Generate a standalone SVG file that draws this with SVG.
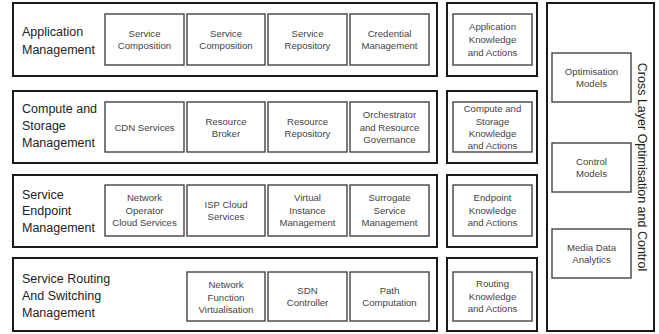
<svg xmlns="http://www.w3.org/2000/svg" width="659" height="334" viewBox="0 0 659 334">
<style>
.outer{fill:#fff;stroke:#1a1a1a;stroke-width:2}
.inner{fill:#fff;stroke:#444;stroke-width:1.4}
.lbl{font-family:"Liberation Sans",Arial,sans-serif;font-size:12.5px;fill:#222}
.t{font-family:"Liberation Sans",Arial,sans-serif;font-size:9.6px;fill:#444;text-anchor:middle}
.vt{font-family:"Liberation Sans",Arial,sans-serif;font-size:12.5px;fill:#222;text-anchor:middle}
</style>
<rect width="659" height="334" fill="#fff"/>
<g id="connectors"/>
<!-- Row 1 -->
<g id="row-application">
<rect class="outer" x="13" y="3" width="424" height="73"/>
<text class="lbl" x="22" y="36">Application</text>
<text class="lbl" x="22" y="54">Management</text>
</g>
<g id="app-svc-comp-1"><rect class="inner" x="105" y="14" width="79" height="51"/><text class="t" x="144.5" y="37">Service</text><text class="t" x="144.5" y="49">Composition</text></g>
<g id="app-svc-comp-2"><rect class="inner" x="187" y="14" width="78" height="51"/><text class="t" x="226" y="37">Service</text><text class="t" x="226" y="49">Composition</text></g>
<g id="app-svc-repo"><rect class="inner" x="268" y="14" width="79" height="51"/><text class="t" x="307.5" y="37">Service</text><text class="t" x="307.5" y="49">Repository</text></g>
<g id="app-cred"><rect class="inner" x="350" y="14" width="79" height="51"/><text class="t" x="389.5" y="37">Credential</text><text class="t" x="389.5" y="49">Management</text></g>
<g id="app-knowledge"><rect class="outer" x="447" y="3" width="90" height="73"/><rect class="inner" x="453" y="14" width="79" height="51"/><text class="t" x="492.5" y="30">Application</text><text class="t" x="492.5" y="43">Knowledge</text><text class="t" x="492.5" y="56">and Actions</text></g>
<!-- Row 2 -->
<g id="row-compute">
<rect class="outer" x="13" y="91" width="424" height="72"/>
<text class="lbl" x="22" y="113">Compute and</text>
<text class="lbl" x="22" y="130">Storage</text>
<text class="lbl" x="22" y="147">Management</text>
</g>
<g id="cdn"><rect class="inner" x="105" y="102" width="79" height="50"/><text class="t" x="144.5" y="130.5">CDN Services</text></g>
<g id="res-broker"><rect class="inner" x="187" y="102" width="78" height="50"/><text class="t" x="226" y="124.5">Resource</text><text class="t" x="226" y="136.5">Broker</text></g>
<g id="res-repo"><rect class="inner" x="268" y="102" width="79" height="50"/><text class="t" x="307.5" y="124.5">Resource</text><text class="t" x="307.5" y="136.5">Repository</text></g>
<g id="orch"><rect class="inner" x="350" y="102" width="79" height="50"/><text class="t" x="389.5" y="118">Orchestrator</text><text class="t" x="389.5" y="130.5">and Resource</text><text class="t" x="389.5" y="143">Governance</text></g>
<g id="compute-knowledge"><rect class="outer" x="447" y="91" width="90" height="72"/><rect class="inner" x="453" y="102" width="79" height="50"/><text class="t" x="492.5" y="112">Compute and</text><text class="t" x="492.5" y="124.5">Storage</text><text class="t" x="492.5" y="137">Knowledge</text><text class="t" x="492.5" y="149">and Actions</text></g>
<!-- Row 3 -->
<g id="row-endpoint">
<rect class="outer" x="13" y="175" width="424" height="72"/>
<text class="lbl" x="22" y="199">Service</text>
<text class="lbl" x="22" y="215">Endpoint</text>
<text class="lbl" x="22" y="232">Management</text>
</g>
<g id="net-op"><rect class="inner" x="105" y="185" width="79" height="51"/><text class="t" x="144.5" y="201">Network</text><text class="t" x="144.5" y="213.5">Operator</text><text class="t" x="144.5" y="226">Cloud Services</text></g>
<g id="isp"><rect class="inner" x="187" y="185" width="78" height="51"/><text class="t" x="226" y="207.5">ISP Cloud</text><text class="t" x="226" y="219.5">Services</text></g>
<g id="virt"><rect class="inner" x="268" y="185" width="79" height="51"/><text class="t" x="307.5" y="201">Virtual</text><text class="t" x="307.5" y="213.5">Instance</text><text class="t" x="307.5" y="226">Management</text></g>
<g id="surrogate"><rect class="inner" x="350" y="185" width="79" height="51"/><text class="t" x="389.5" y="201">Surrogate</text><text class="t" x="389.5" y="213.5">Service</text><text class="t" x="389.5" y="226">Management</text></g>
<g id="endpoint-knowledge"><rect class="outer" x="447" y="175" width="90" height="72"/><rect class="inner" x="453" y="185" width="79" height="51"/><text class="t" x="492.5" y="201">Endpoint</text><text class="t" x="492.5" y="213.5">Knowledge</text><text class="t" x="492.5" y="226">and Actions</text></g>
<!-- Row 4 -->
<g id="row-routing">
<rect class="outer" x="13" y="258" width="424" height="73"/>
<text class="lbl" x="22" y="283">Service Routing</text>
<text class="lbl" x="22" y="300">And Switching</text>
<text class="lbl" x="22" y="317">Management</text>
</g>
<g id="nfv"><rect class="inner" x="187" y="272" width="78" height="49"/><text class="t" x="226" y="288">Network</text><text class="t" x="226" y="300.5">Function</text><text class="t" x="226" y="313">Virtualisation</text></g>
<g id="sdn"><rect class="inner" x="268" y="272" width="79" height="49"/><text class="t" x="307.5" y="294">SDN</text><text class="t" x="307.5" y="306">Controller</text></g>
<g id="path"><rect class="inner" x="350" y="272" width="79" height="49"/><text class="t" x="389.5" y="294">Path</text><text class="t" x="389.5" y="306">Computation</text></g>
<g id="routing-knowledge"><rect class="outer" x="447" y="258" width="90" height="73"/><rect class="inner" x="453" y="272" width="79" height="49"/><text class="t" x="492.5" y="287">Routing</text><text class="t" x="492.5" y="299.5">Knowledge</text><text class="t" x="492.5" y="312">and Actions</text></g>
<!-- Right panel -->
<g id="cross-layer">
<rect class="outer" x="547" y="3" width="107" height="328"/>
<text class="vt" transform="translate(638,167) rotate(90)">Cross Layer Optimisation and Control</text>
</g>
<g id="opt-models"><rect class="inner" x="552" y="53" width="79" height="49"/><text class="t" x="591.5" y="75">Optimisation</text><text class="t" x="591.5" y="87">Models</text></g>
<g id="control-models"><rect class="inner" x="552" y="143" width="79" height="49"/><text class="t" x="591.5" y="165">Control</text><text class="t" x="591.5" y="177">Models</text></g>
<g id="media-analytics"><rect class="inner" x="552" y="229" width="79" height="49"/><text class="t" x="591.5" y="251">Media Data</text><text class="t" x="591.5" y="263">Analytics</text></g>
</svg>
